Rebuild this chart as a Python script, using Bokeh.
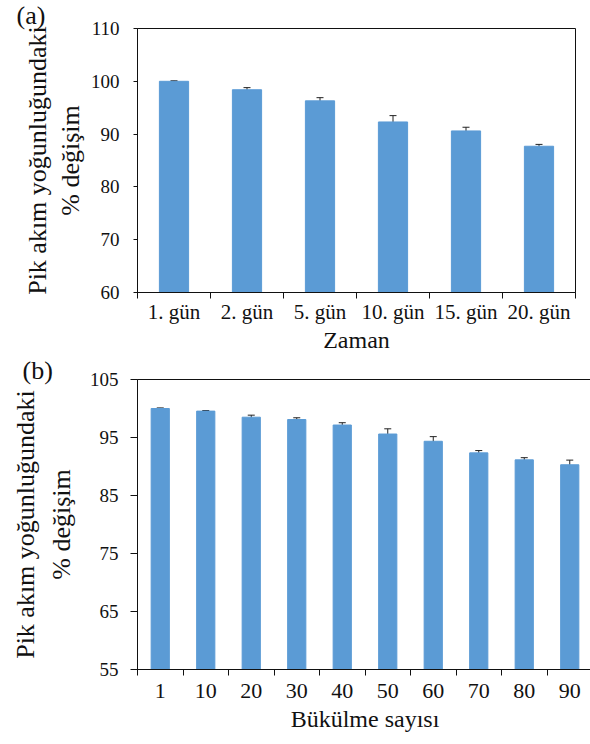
from bokeh.plotting import figure
from bokeh.layouts import column
from bokeh.models import (FixedTicker, Whisker, ColumnDataSource, Range1d,
                          TeeHead, LinearAxis)
from bokeh.embed import file_html
from bokeh.resources import INLINE

# (a) change over days
days = ["1. gün", "2. gün", "5. gün", "10. gün", "15. gün", "20. gün"]
day_values = [100.0, 98.4, 96.3, 92.3, 90.6, 87.7]
day_errors = [0.1, 0.4, 0.6, 1.2, 0.7, 0.35]
day_yticks = [60, 70, 80, 90, 100, 110]

# (b) change over bending cycles
bends = ["1", "10", "20", "30", "40", "50", "60", "70", "80", "90"]
bend_values = [100.0, 99.55, 98.5, 98.1, 97.15, 95.6, 94.35, 92.35, 91.15, 90.3]
bend_errors = [0.1, 0.1, 0.35, 0.3, 0.4, 0.9, 0.8, 0.4, 0.37, 0.8]
bend_yticks = [55, 65, 75, 85, 95, 105]

Y_TITLE_1 = "Pik akım yoğunluğundaki"
Y_TITLE_2 = "% değişim"
FONT = "Liberation Serif"
BAR = "#5b9bd5"
INK = "#111111"


def panel(cats, vals, errs, yticks, xtitle, tag, frame, borders, s):
    n = len(cats)
    centers = [i + 0.5 for i in range(n)]
    src = ColumnDataSource(dict(
        x=centers, top=vals,
        upper=[v + e for v, e in zip(vals, errs)],
        lower=[v - e for v, e in zip(vals, errs)],
    ))
    p = figure(frame_width=frame[0], frame_height=frame[1],
               output_backend="svg", toolbar_location=None,
               x_range=Range1d(0, n), y_range=Range1d(yticks[0], yticks[-1]))
    p.min_border_left, p.min_border_right, p.min_border_top, p.min_border_bottom = borders
    p.background_fill_color = "white"
    p.border_fill_color = "white"
    p.outline_line_color = INK
    p.outline_line_width = 1
    p.grid.visible = False

    # panel tag, top left
    p.title.text = tag
    p.title.align = "left"
    p.title.vertical_align = "top"
    p.title.offset = s["tag_dx"]
    p.title.standoff = s["tag_standoff"]
    p.title.text_font = FONT
    p.title.text_font_size = "26px"
    p.title.text_font_style = "normal"
    p.title.text_color = INK

    p.vbar(x="x", top="top", bottom=yticks[0], width=0.4, source=src,
           fill_color=BAR, line_color=BAR)
    head = dict(size=7, line_color="#222222", line_width=1)
    p.add_layout(Whisker(source=src, base="x", upper="upper", lower="lower",
                         line_color="#222222", line_width=1,
                         upper_head=TeeHead(**head), lower_head=TeeHead(**head)))

    # category axis: labels at bar centres, tick marks between categories
    xa = p.xaxis[0]
    xa.ticker = FixedTicker(ticks=centers, minor_ticks=list(range(n + 1)))
    xa.major_label_overrides = {c: lab for c, lab in zip(centers, cats)}
    xa.major_tick_in = 0
    xa.major_tick_out = 6
    xa.major_tick_line_color = None
    xa.minor_tick_in = 0
    xa.minor_tick_out = 6
    xa.minor_tick_line_color = INK
    xa.axis_line_color = INK
    xa.major_label_text_font = FONT
    xa.major_label_text_font_size = s["xtick_font"]
    xa.major_label_text_color = INK
    xa.major_label_standoff = s["xtick_stand"]
    xa.axis_label = xtitle
    xa.axis_label_text_font = FONT
    xa.axis_label_text_font_size = "24px"
    xa.axis_label_text_font_style = "normal"
    xa.axis_label_text_color = INK
    xa.axis_label_standoff = s["xtitle_stand"]

    ya = p.yaxis[0]
    ya.ticker = FixedTicker(ticks=yticks, minor_ticks=[])
    ya.major_tick_in = 0
    ya.major_tick_out = s["ytick_out"]
    ya.major_tick_line_color = INK
    ya.axis_line_color = INK
    ya.major_label_text_font = FONT
    ya.major_label_text_font_size = "19px"
    ya.major_label_text_color = INK
    ya.major_label_standoff = s["ytick_stand"]
    ya.axis_label = Y_TITLE_2
    ya.axis_label_text_font = FONT
    ya.axis_label_text_font_size = "26px"
    ya.axis_label_text_font_style = "normal"
    ya.axis_label_text_color = INK
    ya.axis_label_standoff = s["ytitle_stand"]

    # outer line of the y title, carried by a bare axis
    outer = LinearAxis(ticker=FixedTicker(ticks=[], minor_ticks=[]),
                       axis_line_color=None, major_tick_line_color=None,
                       minor_tick_line_color=None, major_tick_out=0, major_tick_in=0,
                       major_label_standoff=0,
                       axis_label=Y_TITLE_1, axis_label_text_font=FONT,
                       axis_label_text_font_size="26px",
                       axis_label_text_font_style="normal",
                       axis_label_text_color=INK,
                       axis_label_standoff=s["outer_stand"])
    p.add_layout(outer, "left")
    return p


pa = panel(days, day_values, day_errors, day_yticks, "Zaman", "(a)",
           (438, 264), (137, 15, 28, 63),
           dict(xtick_font="21px", xtick_stand=1, xtitle_stand=0,
                ytick_stand=14, ytick_out=4, ytitle_stand=3, outer_stand=1,
                tag_dx=-121, tag_standoff=-7))
pb = panel(bends, bend_values, bend_errors, bend_yticks, "Bükülme sayısı", "(b)",
           (455, 290), (128, 7, 24, 75),
           dict(xtick_font="22px", xtick_stand=8, xtitle_stand=5,
                ytick_stand=12, ytick_out=7, ytitle_stand=11, outer_stand=4,
                tag_dx=-115, tag_standoff=-15))

layout = column(pa, pb, spacing=0)
open("out.html", "w").write(file_html(layout, INLINE))
